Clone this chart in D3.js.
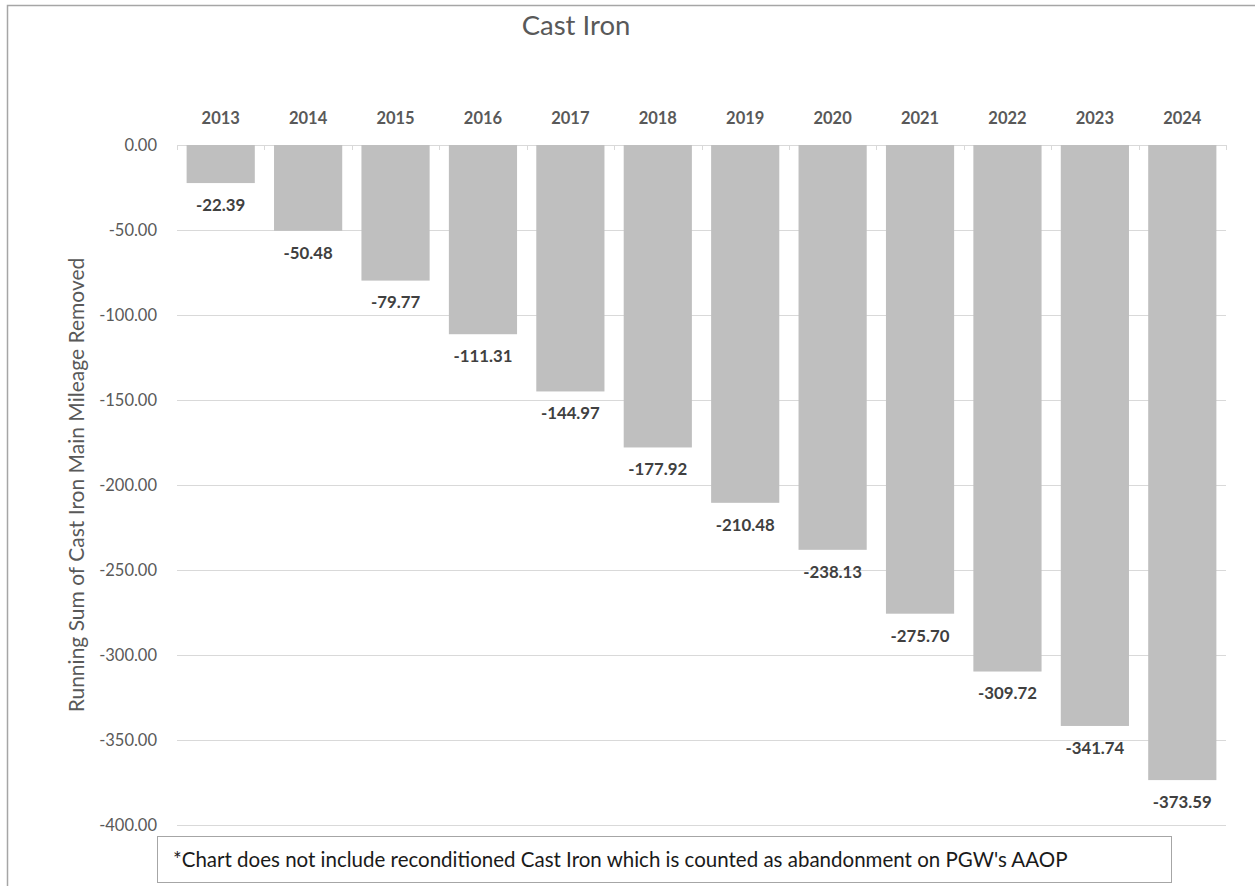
<!DOCTYPE html>
<html>
<head>
<meta charset="utf-8">
<script src="https://cdn.jsdelivr.net/npm/d3@7"></script>
<style>
  html, body { margin: 0; padding: 0; background: #fff; }
  svg text { font-family: Lato, "Open Sans", sans-serif; }
</style>
</head>
<body>
<svg id="chart" width="1255" height="886"></svg>
<script>
// Running sum of cast iron main mileage removed, by year
const years = ["2013","2014","2015","2016","2017","2018","2019","2020","2021","2022","2023","2024"];
const runningSum = [-22.39, -50.48, -79.77, -111.31, -144.97, -177.92, -210.48, -238.13, -275.70, -309.72, -341.74, -373.59];
const yTicks = [0, -50, -100, -150, -200, -250, -300, -350, -400];

const svg = d3.select("#chart");
const W = 1255, H = 886;
const plot = { left: 177, right: 1226, top: 145, bottom: 825 };

// outer chart frame
svg.append("rect")
  .attr("x", 7.5).attr("y", 5.5)
  .attr("width", W + 10).attr("height", H + 10)
  .attr("fill", "#fff").attr("stroke", "#a6a6a6").attr("stroke-width", 1.5);

const x = d3.scaleBand().domain(years).range([plot.left, plot.right]).paddingInner(0.22).paddingOuter(0.11);
const y = d3.scaleLinear().domain([0, -400]).range([plot.top, plot.bottom]);
const fmt = v => d3.format(".2f")(v).replace("\u2212", "-");

// horizontal gridlines
svg.append("g")
  .selectAll("line").data(yTicks).join("line")
  .attr("x1", plot.left).attr("x2", plot.right)
  .attr("y1", d => Math.round(y(d)) + 0.5).attr("y2", d => Math.round(y(d)) + 0.5)
  .attr("stroke", "#d9d9d9").attr("stroke-width", 1);

// y tick labels
svg.append("g")
  .selectAll("text").data(yTicks).join("text")
  .attr("x", 157).attr("y", d => y(d))
  .attr("dy", "0.35em")
  .attr("text-anchor", "end")
  .attr("font-size", 16.5)
  .attr("fill", "#595959")
  .text(fmt);

// bars
svg.append("g")
  .selectAll("rect").data(years).join("rect")
  .attr("x", d => x(d))
  .attr("y", y(0))
  .attr("width", x.bandwidth())
  .attr("height", (d, i) => y(runningSum[i]) - y(0))
  .attr("fill", "#bfbfbf");

// category axis along the zero line, labels on top
const step = x.step();
const boundaries = d3.range(years.length + 1).map(i => plot.left + i * step);
svg.append("g")
  .selectAll("line").data(boundaries).join("line")
  .attr("x1", d => Math.round(d) + 0.5).attr("x2", d => Math.round(d) + 0.5)
  .attr("y1", y(0)).attr("y2", y(0) + 5)
  .attr("stroke", "#d9d9d9");

svg.append("g")
  .selectAll("text").data(years).join("text")
  .attr("x", d => x(d) + x.bandwidth() / 2)
  .attr("y", 118)
  .attr("dy", "0.35em")
  .attr("text-anchor", "middle")
  .attr("font-size", 16.5)
  .attr("font-weight", "bold")
  .attr("fill", "#595959")
  .text(d => d);

// value labels under each bar end
svg.append("g")
  .selectAll("text").data(years).join("text")
  .attr("x", d => x(d) + x.bandwidth() / 2)
  .attr("y", (d, i) => y(runningSum[i]) + 22)
  .attr("dy", "0.35em")
  .attr("text-anchor", "middle")
  .attr("font-size", 16.8)
  .attr("font-weight", "bold")
  .attr("fill", "#404040")
  .text((d, i) => fmt(runningSum[i]));

// title
svg.append("text")
  .attr("x", 576).attr("y", 25)
  .attr("dy", "0.35em")
  .attr("text-anchor", "middle")
  .attr("font-size", 27.5)
  .attr("fill", "#595959")
  .text("Cast Iron");

// y axis title
svg.append("text")
  .attr("transform", "translate(77,485) rotate(-90)")
  .attr("dy", "0.35em")
  .attr("text-anchor", "middle")
  .attr("font-size", 21)
  .attr("fill", "#595959")
  .text("Running Sum of Cast Iron Main Mileage Removed");

// footnote box
svg.append("rect")
  .attr("x", 157.5).attr("y", 836.5)
  .attr("width", 1014).attr("height", 46)
  .attr("fill", "#fff").attr("stroke", "#a6a6a6").attr("stroke-width", 1);
svg.append("text")
  .attr("x", 173).attr("y", 860)
  .attr("dy", "0.35em")
  .attr("font-size", 20.5)
  .attr("fill", "#1a1a1a")
  .text("*Chart does not include reconditioned Cast Iron which is counted as abandonment on PGW's AAOP");
</script>
</body>
</html>
